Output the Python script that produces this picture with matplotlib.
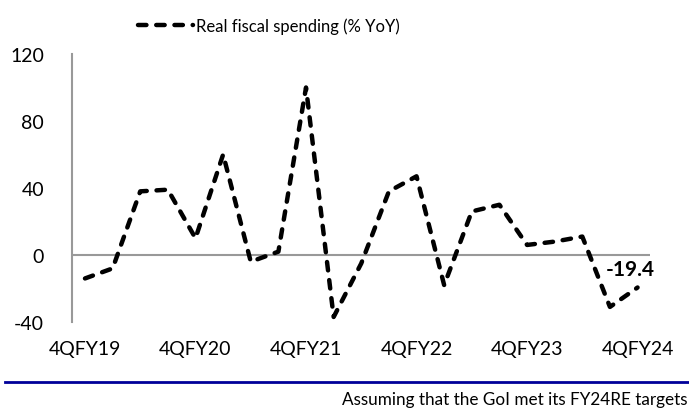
import matplotlib.pyplot as plt
import numpy as np

# quarterly real fiscal spending growth, 4QFY19 .. 4QFY24
quarters = ['4QFY19', '1QFY20', '2QFY20', '3QFY20', '4QFY20', '1QFY21', '2QFY21',
            '3QFY21', '4QFY21', '1QFY22', '2QFY22', '3QFY22', '4QFY22', '1QFY23',
            '2QFY23', '3QFY23', '4QFY23', '1QFY24', '2QFY24', '3QFY24', '4QFY24']
spending = [-14, -8, 38, 39, 10, 60, -4, 2, 100, -37, -5, 38, 47, -18,
            26, 30, 6, 8, 11, -31, -19.4]
yticks = [-40, 0, 40, 80, 120]

plt.rcParams['font.family'] = ['Lato', 'DejaVu Sans']

fig = plt.figure(figsize=(6.89, 4.14), dpi=100)
ax = fig.add_axes([72 / 689, (414 - 323) / 414, (650 - 72) / 689, (323 - 55) / 414])

x = np.arange(len(quarters))
line, = ax.plot(x, spending, color='black', lw=3.2, dashes=(1.9, 2.2),
                dash_capstyle='round', solid_capstyle='round',
                label='Real fiscal spending (% YoY)')

ax.axhline(0, color='#999999', lw=1.5, zorder=0)
ax.set_xlim(-0.47, len(quarters) - 0.55)
ax.set_ylim(-40, 120)
ax.set_yticks(yticks)
ax.set_yticklabels([str(v) for v in yticks], fontsize=14)
ax.set_xticks(x[::4])
ax.set_xticklabels(quarters[::4], fontsize=14)
ax.tick_params(axis='both', length=0)
ax.tick_params(axis='y', pad=20)
ax.tick_params(axis='x', pad=13)
for s in ['top', 'right', 'bottom']:
    ax.spines[s].set_visible(False)
ax.spines['left'].set_color('#999999')
ax.spines['left'].set_linewidth(1.5)

# label for latest value
ax.text(x[-1] - 0.25, spending[-1] + 11, '-19.4', fontsize=15, fontweight='bold',
        ha='center', va='center')

fig.legend(handles=[line], loc='center', bbox_to_anchor=(0.39, (414 - 27) / 414),
           frameon=False, fontsize=12, handlelength=3.3, handletextpad=0.2)

# footer rule and note
fig.add_artist(plt.Line2D([5 / 689, 1], [(414 - 383) / 414] * 2, color='#000099', lw=2))
fig.text(687 / 689, (414 - 400) / 414, 'Assuming that the GoI met its FY24RE targets',
         ha='right', va='center', fontsize=12.3)

fig.savefig('out.png', dpi=100)
